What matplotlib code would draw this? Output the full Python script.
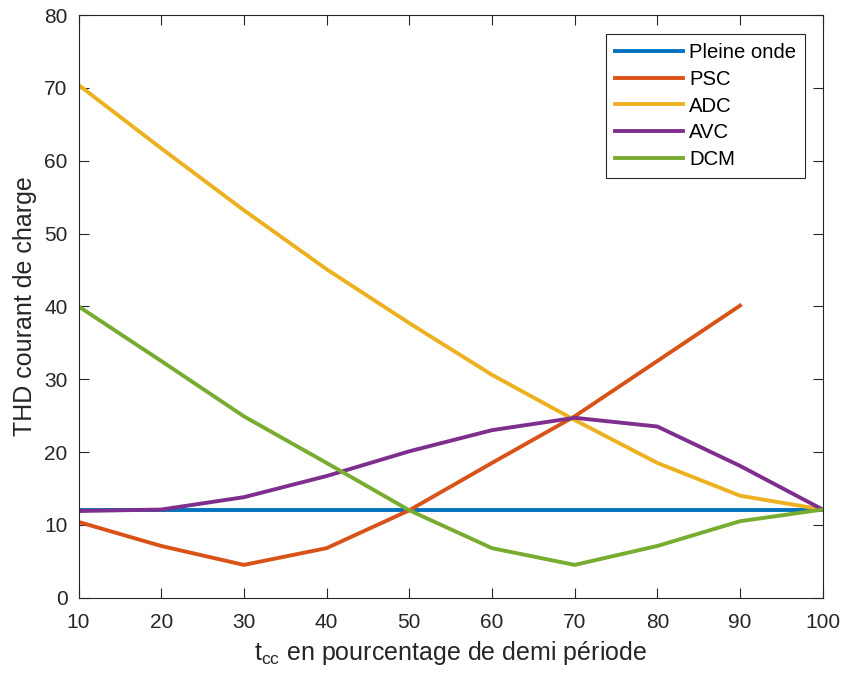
import numpy as np
import matplotlib
matplotlib.use("Agg")
import matplotlib.pyplot as plt

# duty cycle t_cc (% of half period)
t_cc = [10, 20, 30, 40, 50, 60, 70, 80, 90, 100]

# THD of load current per control strategy
thd_pleine_onde = [12.1, 12.1, 12.1, 12.1, 12.1, 12.1, 12.1, 12.1, 12.1, 12.1]
thd_psc = [10.4, 7.1, 4.5, 6.8, 12.0, 18.5, 24.9, 32.5, 40.1]
thd_adc = [70.4, 61.7, 53.2, 45.1, 37.7, 30.6, 24.4, 18.5, 14.0, 12.1]
thd_avc = [11.9, 12.1, 13.8, 16.7, 20.1, 23.0, 24.7, 23.5, 18.1, 12.1]
thd_dcm = [40.0, 32.5, 24.9, 18.5, 12.0, 6.8, 4.5, 7.1, 10.5, 12.1]

plt.rcParams['font.family'] = ['Liberation Sans', 'DejaVu Sans']
plt.rcParams['mathtext.default'] = 'regular'

grey = '#262626'
fig = plt.figure(figsize=(8.46, 6.84), dpi=100)
ax = fig.add_axes([0.0928, 0.1262, 0.8797, 0.8518])

lw = 2.8
ax.plot(t_cc, thd_pleine_onde, color=(0, 0.447, 0.741), lw=lw, label='Pleine onde')
ax.plot(t_cc[:len(thd_psc)], thd_psc, color=(0.85, 0.325, 0.098), lw=lw, label='PSC')
ax.plot(t_cc, thd_adc, color=(0.929, 0.694, 0.125), lw=lw, label='ADC')
ax.plot(t_cc, thd_avc, color=(0.494, 0.184, 0.556), lw=lw, label='AVC')
ax.plot(t_cc, thd_dcm, color=(0.466, 0.674, 0.188), lw=lw, label='DCM')

ax.set_xlim(10, 100)
ax.set_ylim(0, 80)
ax.set_xticks(np.arange(10, 101, 10))
ax.set_yticks(np.arange(0, 81, 10))
ax.tick_params(direction='in', length=7, width=0.8, top=True, right=True,
               labelsize=15, colors=grey)
ax.tick_params(axis='x', pad=11)
ax.tick_params(axis='y', pad=8)
for s in ax.spines.values():
    s.set_color(grey)
    s.set_linewidth(0.8)

ax.set_xlabel('t$_{cc}$ en pourcentage de demi période', fontsize=18, color=grey, labelpad=5)
ax.set_ylabel('THD courant de charge', fontsize=18, color=grey, labelpad=5)

leg = ax.legend(loc='upper right', bbox_to_anchor=(0.9762, 0.9674), borderaxespad=0,
                fontsize=14.6, handlelength=3.35, handletextpad=0.3, labelspacing=0.38,
                borderpad=0.45, fancybox=False, framealpha=1, edgecolor=grey)
leg.get_frame().set_linewidth(0.8)

fig.savefig('out.png', dpi=100)
